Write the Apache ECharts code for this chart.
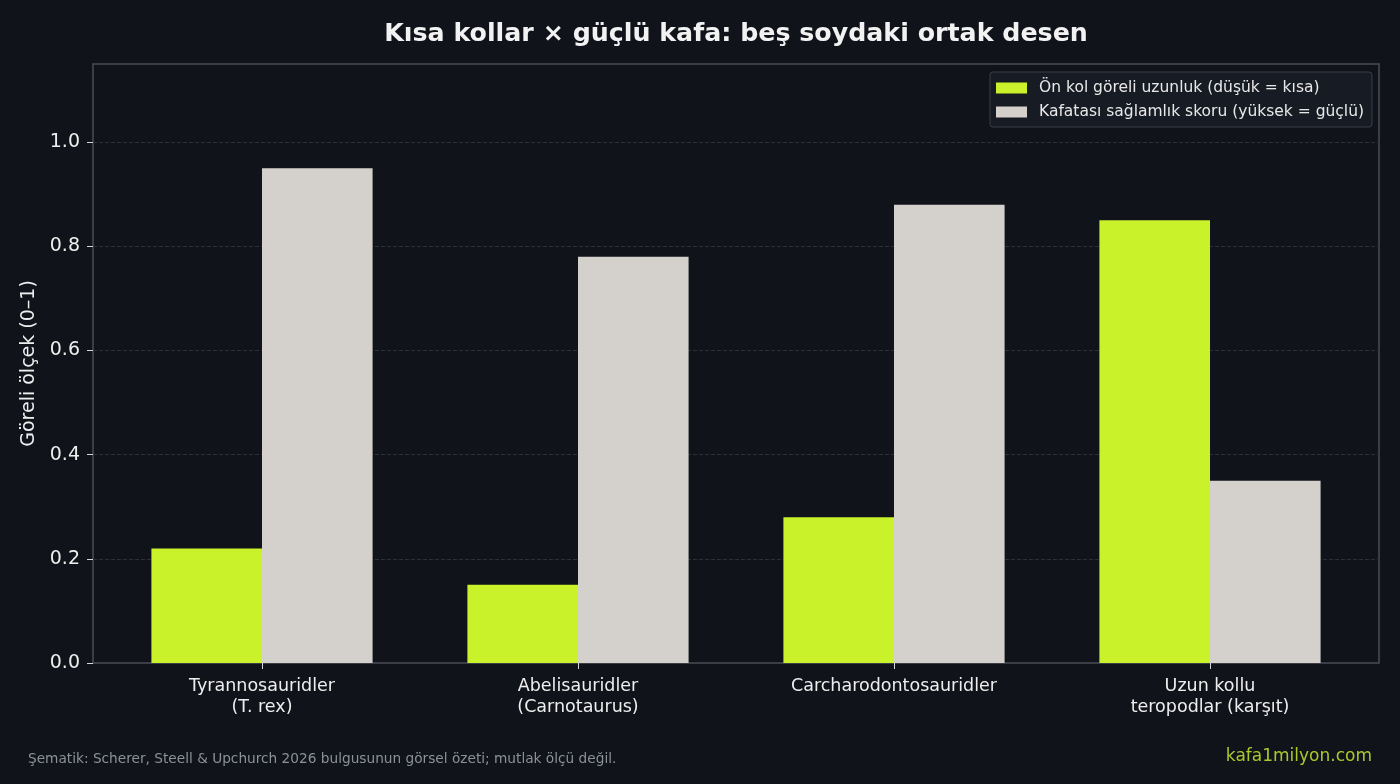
<!DOCTYPE html>
<html>
<head>
<meta charset="utf-8">
<script src="https://cdn.jsdelivr.net/npm/echarts@6/dist/echarts.min.js"></script>
<style>
  html, body { margin: 0; padding: 0; background: #10131a; }
  #chart { width: 1400px; height: 784px; }
</style>
</head>
<body>
<div id="chart"></div>
<script>
// kategoriler ve degerler
const categories = ['Tyrannosauridler\n(T. rex)', 'Abelisauridler\n(Carnotaurus)', 'Carcharodontosauridler', 'Uzun kollu\nteropodlar (karşıt)'];
const armLength = [0.22, 0.15, 0.28, 0.85];
const skullScore = [0.95, 0.78, 0.88, 0.35];
const yTicks = [0, 0.2, 0.4, 0.6, 0.8, 1.0];

const font = 'DejaVu Sans';
const chart = echarts.init(document.getElementById('chart'));

// grid 0 = cerceve + y ekseni, grid 1 = cubuklar (matplotlib kenar boslugu gibi iceride)
chart.setOption({
  backgroundColor: '#10131a',
  animation: false,
  textStyle: { fontFamily: font },
  legend: {
    orient: 'vertical',
    right: 28,
    top: 72,
    padding: [7, 8, 6, 6],
    itemGap: 6,
    itemWidth: 31,
    itemHeight: 11,
    backgroundColor: '#171b23',
    borderColor: '#3a3f4a',
    borderWidth: 1,
    borderRadius: 3,
    icon: 'rect',
    textStyle: { color: '#e8e8e8', fontSize: 15.5, lineHeight: 18, padding: [0, 0, 0, 7], fontFamily: font },
    data: ['Ön kol göreli uzunluk (düşük = kısa)', 'Kafatası sağlamlık skoru (yüksek = güçlü)']
  },
  grid: [
    {
      left: 93, right: 21, top: 64, bottom: 121,
      show: true, borderColor: '#4a4d55', borderWidth: 1.5, backgroundColor: 'transparent'
    },
    { left: 104, right: 32, top: 64, bottom: 121 }
  ],
  xAxis: [
    { type: 'value', gridIndex: 0, min: 0, max: 1, show: false },
    {
      type: 'category',
      gridIndex: 1,
      data: categories,
      axisLine: { show: false },
      axisTick: { show: true, alignWithLabel: true, length: 6, lineStyle: { color: '#d8d8d8' } },
      axisLabel: { color: '#eeeeee', fontSize: 17.5, lineHeight: 21, margin: 13, fontFamily: font }
    }
  ],
  yAxis: [
    {
      type: 'value',
      gridIndex: 0,
      min: 0,
      max: 1.15,
      name: 'Göreli ölçek (0–1)',
      nameLocation: 'middle',
      nameGap: 53,
      nameRotate: 90,
      nameTextStyle: { color: '#eeeeee', fontSize: 19, fontFamily: font },
      axisLine: { show: false },
      axisTick: { show: true, length: 6, customValues: yTicks, lineStyle: { color: '#d8d8d8' } },
      axisLabel: {
        color: '#eeeeee', fontSize: 19, margin: 13, fontFamily: font,
        customValues: yTicks,
        formatter: v => v.toFixed(1)
      },
      splitLine: { show: false }
    },
    {
      type: 'value', gridIndex: 1, min: 0, max: 1.15, show: false,
      splitLine: { show: false }
    }
  ],
  series: [
    {
      // yatay izgara cizgileri, cerceve boyunca, cubuklarin altinda
      type: 'line',
      xAxisIndex: 0,
      yAxisIndex: 0,
      z: 0,
      silent: true,
      data: [],
      markLine: {
        z: 0,
        silent: true,
        symbol: 'none',
        label: { show: false },
        lineStyle: { color: '#2c3039', type: 'dashed', width: 1 },
        data: yTicks.slice(1).map(v => ({ yAxis: v }))
      }
    },
    {
      name: 'Ön kol göreli uzunluk (düşük = kısa)',
      type: 'bar',
      xAxisIndex: 1,
      yAxisIndex: 1,
      z: 3,
      data: armLength,
      barGap: '0%',
      barCategoryGap: '30%',
      itemStyle: { color: '#c9f22b' }
    },
    {
      name: 'Kafatası sağlamlık skoru (yüksek = güçlü)',
      type: 'bar',
      xAxisIndex: 1,
      yAxisIndex: 1,
      z: 3,
      data: skullScore,
      itemStyle: { color: '#d4d1cc' }
    }
  ],
  graphic: [
    {
      type: 'text',
      x: 736,
      y: 34,
      style: {
        text: 'Kısa kollar × güçlü kafa: beş soydaki ortak desen',
        fill: '#f2f2f2',
        fontSize: 25.3,
        fontWeight: 'bold',
        fontFamily: font,
        align: 'center',
        verticalAlign: 'middle'
      }
    },
    {
      type: 'text',
      left: 28,
      top: 752,
      style: {
        text: 'Şematik: Scherer, Steell & Upchurch 2026 bulgusunun görsel özeti; mutlak ölçü değil.',
        fill: '#8c9099',
        fontSize: 13.7,
        fontFamily: font
      }
    },
    {
      type: 'text',
      right: 28,
      top: 748,
      style: {
        text: 'kafa1milyon.com',
        fill: '#abc82b',
        fontSize: 17,
        fontFamily: font
      }
    }
  ]
});
</script>
</body>
</html>
